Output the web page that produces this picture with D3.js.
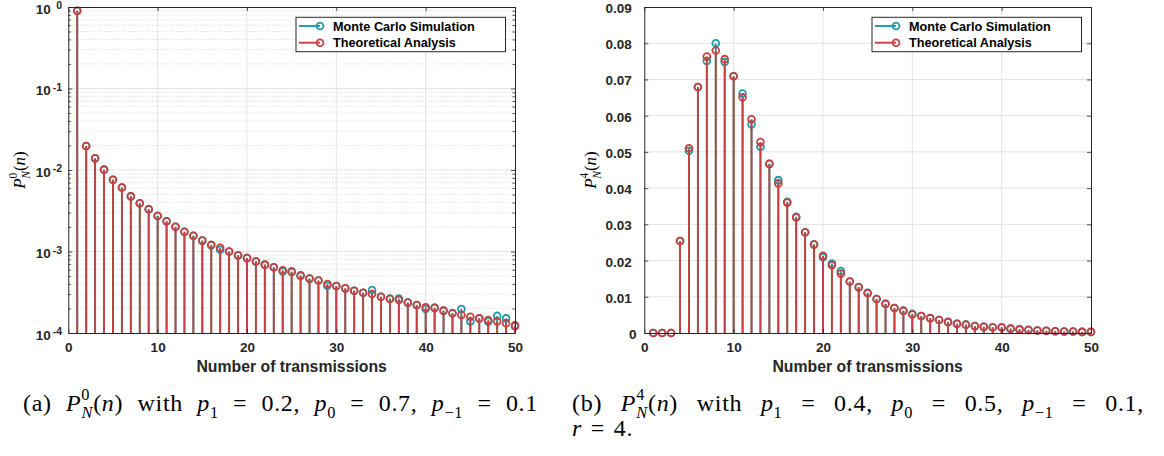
<!DOCTYPE html>
<html>
<head>
<meta charset="utf-8">
<script src="https://cdn.jsdelivr.net/npm/d3@7"></script>
<style>
  body { margin: 0; background: #fff; }
</style>
</head>
<body>
<div id="chart"></div>
<script>
// number of transmissions (x categories)
const transmissions = [1, 2, 3, 4, 5, 6, 7, 8, 9, 10, 11, 12, 13, 14, 15, 16, 17, 18, 19, 20,
  21, 22, 23, 24, 25, 26, 27, 28, 29, 30, 31, 32, 33, 34, 35, 36, 37, 38, 39, 40,
  41, 42, 43, 44, 45, 46, 47, 48, 49, 50];

// panel (a): P_N^0(n)
const theoryA = [0.9, 0.0197, 0.0139, 0.0101, 0.0076, 0.0061, 0.0048, 0.0039, 0.0033, 0.00275,
  0.00235, 0.00201, 0.00175, 0.00156, 0.00136, 0.00121, 0.00111, 0.00100, 0.00090, 0.00083,
  0.00076, 0.00069, 0.00064, 0.00059, 0.00056, 0.00051, 0.000465, 0.00044, 0.00040, 0.000377,
  0.000353, 0.00033, 0.000312, 0.000301, 0.000279, 0.000261, 0.000254, 0.000236, 0.000221, 0.000207,
  0.000203, 0.000188, 0.000175, 0.000166, 0.000158, 0.000151, 0.000144, 0.000139, 0.000132, 0.000124];
const simulationA = [0.9, 0.0197, 0.0139, 0.0101, 0.0076, 0.0061, 0.0047, 0.0039, 0.0033, 0.00272,
  0.00235, 0.00201, 0.00175, 0.00156, 0.00136, 0.00119, 0.00105, 0.00100, 0.00089, 0.00083,
  0.00075, 0.00069, 0.00064, 0.00057, 0.00057, 0.00050, 0.000465, 0.00044, 0.00038, 0.000377,
  0.000353, 0.00033, 0.000312, 0.000337, 0.000279, 0.000265, 0.000265, 0.000236, 0.000221, 0.000197,
  0.000205, 0.000188, 0.000175, 0.000197, 0.000139, 0.000151, 0.000138, 0.000162, 0.000151, 0.000120];

// panel (b): P_N^4(n)
const theoryB = [0, 0, 0, 0.0254, 0.0510, 0.0679, 0.0763, 0.0780, 0.0756, 0.0709,
  0.0651, 0.0590, 0.0527, 0.0467, 0.0413, 0.0360, 0.0319, 0.0278, 0.0244, 0.0213,
  0.0187, 0.0164, 0.0142, 0.0126, 0.0110, 0.0094, 0.0080, 0.0069, 0.0061, 0.0051,
  0.0047, 0.0041, 0.0036, 0.0030, 0.0025, 0.0023, 0.0019, 0.0017, 0.0016, 0.0015,
  0.0012, 0.0010, 0.0008, 0.0007, 0.0006, 0.0005, 0.0004, 0.0004, 0.0003, 0.0003];
const simulationB = [0, 0, 0, 0.0254, 0.0503, 0.0679, 0.0751, 0.0800, 0.0748, 0.0709,
  0.0661, 0.0576, 0.0514, 0.0467, 0.0422, 0.0362, 0.0321, 0.0278, 0.0245, 0.0209,
  0.0192, 0.0171, 0.0142, 0.0127, 0.0111, 0.0094, 0.0081, 0.0069, 0.0062, 0.0053,
  0.0047, 0.0041, 0.0036, 0.0031, 0.0026, 0.0023, 0.0019, 0.0017, 0.0016, 0.0016,
  0.0012, 0.0010, 0.0009, 0.0007, 0.0006, 0.0005, 0.0004, 0.0004, 0.0003, 0.0003];

// ticks
const xTicks = [0, 10, 20, 30, 40, 50];
const yTicksA = [1e-4, 1e-3, 1e-2, 1e-1, 1];
const yExponentsA = ["-4", "-3", "-2", "-1", "0"];
const yTicksB = [0, 0.01, 0.02, 0.03, 0.04, 0.05, 0.06, 0.07, 0.08, 0.09];
const yTickLabelsB = ["0", "0.01", "0.02", "0.03", "0.04", "0.05", "0.06", "0.07", "0.08", "0.09"];

const seriesNames = ["Monte Carlo Simulation", "Theoretical Analysis"];
const seriesColors = ["#1a9aae", "#c8403e"];

const sans = "'Liberation Sans', Arial, Helvetica, sans-serif";
const serif = "'Liberation Serif', 'Times New Roman', serif";
const axisColor = "#262626";

const svg = d3.select("#chart").append("svg")
  .attr("width", 1164)
  .attr("height", 456)
  .style("display", "block");

// text with italic / super / subscript pieces
function mathText(parent, parts, size) {
  const t = parent.append("text")
    .attr("font-family", serif)
    .attr("font-size", size)
    .attr("fill", "#000");
  let shift = 0;
  parts.forEach((p) => {
    const ts = t.append("tspan").text(p.t);
    const target = p.sup ? -0.45 * size : p.sub ? 0.3 * size : 0;
    if (target !== shift) ts.attr("dy", target - shift);
    shift = target;
    if (p.sup || p.sub) ts.attr("font-size", size * 0.68);
    if (p.it) ts.attr("font-style", "italic");
    if (p.dx) ts.attr("dx", p.dx * size);
  });
  return t;
}

function pLabel(r) {
  return [
    { t: "P", it: true },
    { t: r, sup: true },
    { t: "N", sub: true, it: true, dx: -0.36 },
    { t: "(" },
    { t: "n", it: true },
    { t: ")" },
  ];
}

function drawPanel(cfg) {
  const g = svg.append("g");
  const x = d3.scaleLinear().domain([0, 50]).range([cfg.left, cfg.right]);
  const y = cfg.log
    ? d3.scaleLog().domain([1e-4, 1]).range([cfg.bottom, cfg.top])
    : d3.scaleLinear().domain([0, 0.09]).range([cfg.bottom, cfg.top]);
  const base = y.domain()[0];
  const majorY = cfg.log ? yTicksA : yTicksB;

  // minor grid for the log axis
  let minorY = [];
  if (cfg.log) {
    minorY = y.ticks().filter((v) => Math.abs(Math.log10(v) - Math.round(Math.log10(v))) > 1e-6);
    g.append("g").selectAll("line").data(minorY).join("line")
      .attr("x1", cfg.left).attr("x2", cfg.right)
      .attr("y1", (d) => y(d)).attr("y2", (d) => y(d))
      .attr("stroke", "#c8c8c8").attr("stroke-width", 0.8)
      .attr("stroke-dasharray", "1,2");
  }

  // major grid
  const grid = g.append("g").attr("stroke", "#e3e3e3").attr("stroke-width", 1);
  grid.selectAll(".gx").data(xTicks.slice(1, -1)).join("line")
    .attr("x1", (d) => x(d)).attr("x2", (d) => x(d))
    .attr("y1", cfg.top).attr("y2", cfg.bottom);
  grid.selectAll(".gy").data(majorY.slice(1, -1)).join("line")
    .attr("x1", cfg.left).attr("x2", cfg.right)
    .attr("y1", (d) => y(d)).attr("y2", (d) => y(d));

  // stems: simulation first, theory drawn on top
  [cfg.sim, cfg.theory].forEach((vals, k) => {
    const s = g.append("g");
    s.selectAll("line").data(transmissions).join("line")
      .attr("x1", (n) => x(n)).attr("x2", (n) => x(n))
      .attr("y1", y(base)).attr("y2", (n, i) => y(vals[i]))
      .attr("stroke", seriesColors[k]).attr("stroke-width", 1.9);
    s.selectAll("circle").data(transmissions).join("circle")
      .attr("cx", (n) => x(n)).attr("cy", (n, i) => y(vals[i]))
      .attr("r", 3.4)
      .attr("fill", "none")
      .attr("stroke", seriesColors[k]).attr("stroke-width", 1.8);
  });

  // axes
  const axes = g.append("g");
  const bottomAxis = axes.append("g")
    .attr("transform", `translate(0,${cfg.bottom})`)
    .call(d3.axisBottom(x).tickValues(xTicks).tickSizeInner(-4).tickSizeOuter(0).tickPadding(9));
  axes.append("g")
    .attr("transform", `translate(0,${cfg.top})`)
    .call(d3.axisTop(x).tickValues(xTicks).tickSizeInner(-4).tickSizeOuter(0).tickFormat(""));
  const leftAxis = axes.append("g")
    .attr("transform", `translate(${cfg.left},0)`)
    .call(d3.axisLeft(y).tickValues(majorY).tickSizeInner(-4).tickSizeOuter(0)
      .tickPadding(12.5)
      .tickFormat((d, i) => (cfg.log ? "" : yTickLabelsB[i])));
  axes.append("g")
    .attr("transform", `translate(${cfg.right},0)`)
    .call(d3.axisRight(y).tickValues(majorY).tickSizeInner(-4).tickSizeOuter(0).tickFormat(""));
  if (cfg.log) {
    axes.append("g")
      .attr("transform", `translate(${cfg.left},0)`)
      .call(d3.axisLeft(y).tickValues(minorY).tickSizeInner(-2.5).tickSizeOuter(0).tickFormat(""))
      .select(".domain").remove();
    axes.append("g")
      .attr("transform", `translate(${cfg.right},0)`)
      .call(d3.axisRight(y).tickValues(minorY).tickSizeInner(-2.5).tickSizeOuter(0).tickFormat(""))
      .select(".domain").remove();
  }
  axes.selectAll(".domain").attr("stroke", axisColor).attr("stroke-width", 1);
  axes.selectAll(".tick line").attr("stroke", axisColor).attr("stroke-width", 0.8);
  axes.selectAll("g").attr("font-family", null).attr("font-size", null);
  axes.selectAll(".tick text")
    .attr("font-family", sans).attr("font-weight", "bold")
    .attr("font-size", 13.5).attr("fill", "#262626");
  bottomAxis.selectAll(".tick text").attr("dy", null).attr("y", 18.7);
  if (!cfg.log) {
    leftAxis.selectAll(".tick text").attr("dy", null).attr("y", 5.5)
      .attr("x", (d) => (d === 0 ? -7.7 : -12.6));
  } else {
    // 10^k labels
    const lab = g.append("g").attr("font-family", sans).attr("font-weight", "bold")
      .attr("fill", "#262626").attr("text-anchor", "end");
    yTicksA.forEach((v, i) => {
      lab.append("text").attr("x", cfg.left - 17.5).attr("y", y(v) + 6.8)
        .attr("font-size", 13.5).text("10");
      lab.append("text").attr("x", cfg.left - 6.3).attr("y", y(v) + 2)
        .attr("font-size", 10.5).text(yExponentsA[i]);
    });
  }

  // x label
  g.append("text")
    .attr("x", (cfg.left + cfg.right) / 2).attr("y", 371.5)
    .attr("text-anchor", "middle")
    .attr("font-family", sans).attr("font-weight", "bold").attr("font-size", 15.8)
    .attr("fill", "#262626")
    .text("Number of transmissions");

  // y label
  mathText(g, pLabel(cfg.r), 17)
    .attr("text-anchor", "middle")
    .attr("transform", `translate(${cfg.yLabelX},170) rotate(-90)`);

  // legend
  const lg = g.append("g").attr("transform", `translate(${cfg.legendX},17.3)`);
  lg.append("rect").attr("width", 209.5).attr("height", 34.4)
    .attr("fill", "#fff").attr("stroke", axisColor).attr("stroke-width", 1);
  seriesNames.forEach((name, k) => {
    const ry = 8.7 + k * 16.7;
    lg.append("line").attr("x1", 3).attr("x2", 24).attr("y1", ry).attr("y2", ry)
      .attr("stroke", seriesColors[k]).attr("stroke-width", 1.9);
    lg.append("circle").attr("cx", 24).attr("cy", ry).attr("r", 3.4)
      .attr("fill", "none").attr("stroke", seriesColors[k]).attr("stroke-width", 1.8);
    lg.append("text").attr("x", 37).attr("y", ry + 4.6)
      .attr("font-family", sans).attr("font-weight", "bold").attr("font-size", 12.7)
      .attr("fill", "#000").text(name);
  });
}

drawPanel({ left: 68.3, right: 515, top: 7, bottom: 333, log: true,
  sim: simulationA, theory: theoryA, r: "0", yLabelX: 25, legendX: 296 });
drawPanel({ left: 644.3, right: 1091, top: 7, bottom: 333, log: false,
  sim: simulationB, theory: theoryB, r: "4", yLabelX: 596, legendX: 872 });

// captions
const captionA = [
  { t: "(a) " }, ...pLabel("0"), { t: " with " },
  { t: "p", it: true }, { t: "1", sub: true }, { t: " = 0.2, " },
  { t: "p", it: true }, { t: "0", sub: true }, { t: " = 0.7, " },
  { t: "p", it: true }, { t: "\u22121", sub: true }, { t: " = 0.1" },
];
const captionB = [
  { t: "(b) " }, ...pLabel("4"), { t: " with " },
  { t: "p", it: true }, { t: "1", sub: true }, { t: " = 0.4, " },
  { t: "p", it: true }, { t: "0", sub: true }, { t: " = 0.5, " },
  { t: "p", it: true }, { t: "\u22121", sub: true }, { t: " = 0.1," },
];

const spaceCount = (parts) => parts.map((p) => p.t).join("").split(" ").length - 1;
const capSize = 24;
const track = 0.7;

// spread a caption line over its printed width with extra word spacing
function fitLine(parts, x, y, width) {
  const t = mathText(svg, parts, capSize).attr("x", x).attr("y", y)
    .attr("letter-spacing", track);
  const gap = (width - t.node().getBBox().width) / spaceCount(parts);
  t.attr("word-spacing", Math.max(0, gap));
  return t;
}

fitLine(captionA, 23, 411, 515);
fitLine(captionB, 572, 411, 572);
mathText(svg, [{ t: "r", it: true }, { t: " = 4." }], capSize)
  .attr("x", 572).attr("y", 436).attr("letter-spacing", track).attr("word-spacing", 2);
</script>
</body>
</html>
